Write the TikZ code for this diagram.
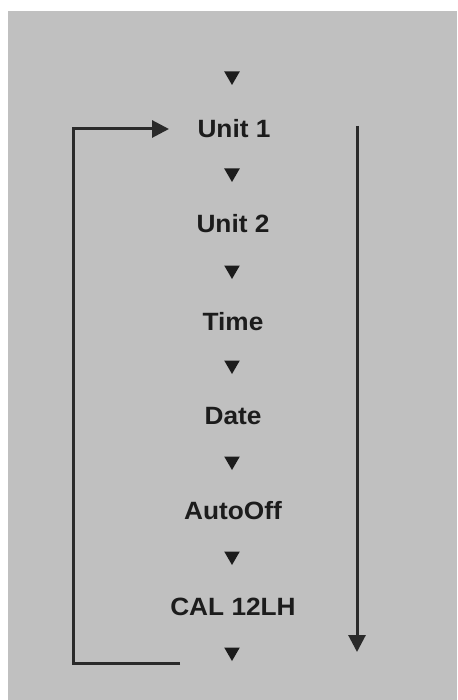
\documentclass[tikz,border=0pt]{standalone}
\usepackage{fontspec}
\setmainfont{Liberation Sans}
\usetikzlibrary{shapes.geometric,arrows.meta}
\definecolor{panel}{HTML}{C0C0C0}
\definecolor{ink}{HTML}{1C1C1C}
\definecolor{wire}{HTML}{2A2A2A}
\tikzset{
  lbl/.style={text=ink, font=\fontsize{25}{25}\selectfont\bfseries, inner sep=0pt, anchor=center, xscale=1.05},
  tri/.style={fill=ink, draw=none, regular polygon, regular polygon sides=3, shape border rotate=180, minimum size=18pt, inner sep=0pt},
  wireline/.style={draw=wire, line width=3pt},
  wirearrow/.style={wireline, -{Triangle[length=17pt,width=17pt]}},
}
\begin{document}
\begin{tikzpicture}[x=1pt,y=-1pt]
\useasboundingbox (0,0) rectangle (457,700);
\fill[white] (0,0) rectangle (457,700);
\fill[panel] (8,11) rectangle (457,700);
% markers
\node[tri] (t0) at (232,76) {};
\node[tri] (t1) at (232,173) {};
\node[tri] (t2) at (232,270) {};
\node[tri] (t3) at (232,365) {};
\node[tri] (t4) at (232,461) {};
\node[tri] (t5) at (232,556) {};
\node[tri] (t6) at (232,652) {};
% labels
\node[lbl] (u1) at (234,129) {Unit 1};
\node[lbl] (u2) at (233,224) {Unit 2};
\node[lbl] (tm) at (233,322) {Time};
\node[lbl] (dt) at (233,416) {Date};
\node[lbl] (ao) at (233,511) {AutoOff};
\node[lbl] (cal) at (233,607) {CAL 12LH};
% loop back
\coordinate (lbEnd) at (180,663);
\coordinate (lbCorner) at (73,663);
\coordinate (ltCorner) at (73,129);
\coordinate (ltTip) at (169,129);
\draw[wirearrow] (lbEnd) -- (lbCorner) -- (ltCorner) -- (ltTip);
% right arrow
\coordinate (rTop) at (357,126);
\coordinate (rTip) at (357,652);
\draw[wirearrow] (rTop) -- (rTip);
\end{tikzpicture}
\end{document}
